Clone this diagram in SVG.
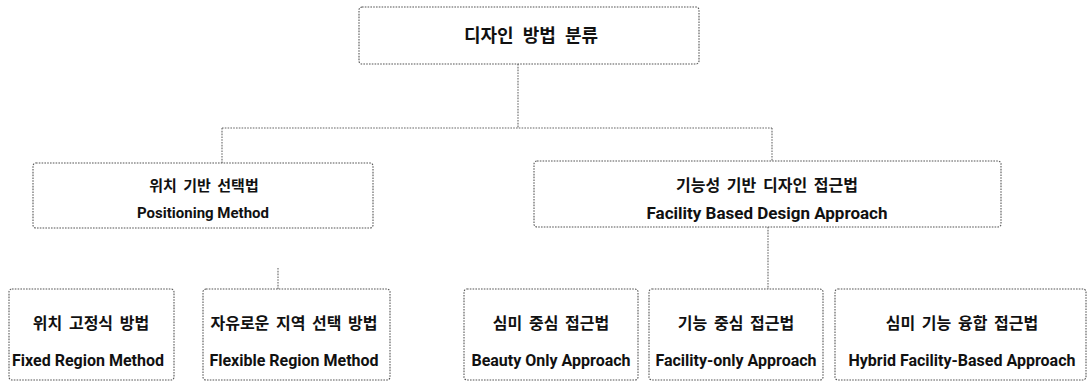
<svg xmlns="http://www.w3.org/2000/svg" width="1088" height="383" viewBox="0 0 1088 383">
<style>
.box{fill:#fff;stroke:#555;stroke-width:1.1;stroke-dasharray:1.6 1.2}
.con{fill:none;stroke:#666;stroke-width:1.1;stroke-dasharray:1.6 1.2}
.ko{font-family:"Noto Sans CJK KR","Noto Sans",sans-serif;font-weight:700;font-size:16px;fill:#111;text-anchor:middle;word-spacing:3px}
.en{font-family:Roboto,"Liberation Sans",sans-serif;font-weight:700;font-size:16px;fill:#111;text-anchor:middle}
</style>
<rect width="1088" height="383" fill="#fff"/>
<g id="connectors">
<path class="con" d="M518 64V128M222 128H772M222 128V163M772 128V161"/>
<path class="con" d="M278 268V289"/>
<path class="con" d="M768 227V289"/>
</g>
<g id="root">
<rect class="box" x="359" y="7" width="340" height="57" rx="3"/>
<text class="ko" x="531" y="42" style="font-size:18px;word-spacing:5px">디자인 방법 분류</text>
</g>
<g id="positioning">
<rect class="box" x="33" y="163" width="340" height="65" rx="3"/>
<text class="ko" x="204" y="191" style="font-size:15px">위치 기반 선택법</text>
<text class="en" x="203" y="218" style="font-size:15px">Positioning Method</text>
</g>
<g id="facility">
<rect class="box" x="534" y="161" width="467" height="66" rx="3"/>
<text class="ko" x="767" y="191">기능성 기반 디자인 접근법</text>
<text class="en" x="767" y="219" style="font-size:17px">Facility Based Design Approach</text>
</g>
<g id="fixed">
<rect class="box" x="9" y="289" width="165" height="91" rx="3"/>
<text class="ko" x="91" y="329">위치 고정식 방법</text>
<text class="en" x="88" y="366">Fixed Region Method</text>
</g>
<g id="flexible">
<rect class="box" x="203" y="289" width="187" height="91" rx="3"/>
<text class="ko" x="294" y="329">자유로운 지역 선택 방법</text>
<text class="en" x="294" y="366">Flexible Region Method</text>
</g>
<g id="beauty">
<rect class="box" x="464" y="289" width="174" height="91" rx="3"/>
<text class="ko" x="551" y="329">심미 중심 접근법</text>
<text class="en" x="551" y="366">Beauty Only Approach</text>
</g>
<g id="facility-only">
<rect class="box" x="649" y="289" width="174" height="91" rx="3"/>
<text class="ko" x="736" y="329">기능 중심 접근법</text>
<text class="en" x="736" y="366">Facility-only Approach</text>
</g>
<g id="hybrid">
<rect class="box" x="835" y="289" width="251" height="91" rx="3"/>
<text class="ko" x="962" y="329">심미 기능 융합 접근법</text>
<text class="en" x="962" y="366">Hybrid Facility-Based Approach</text>
</g>
</svg>
